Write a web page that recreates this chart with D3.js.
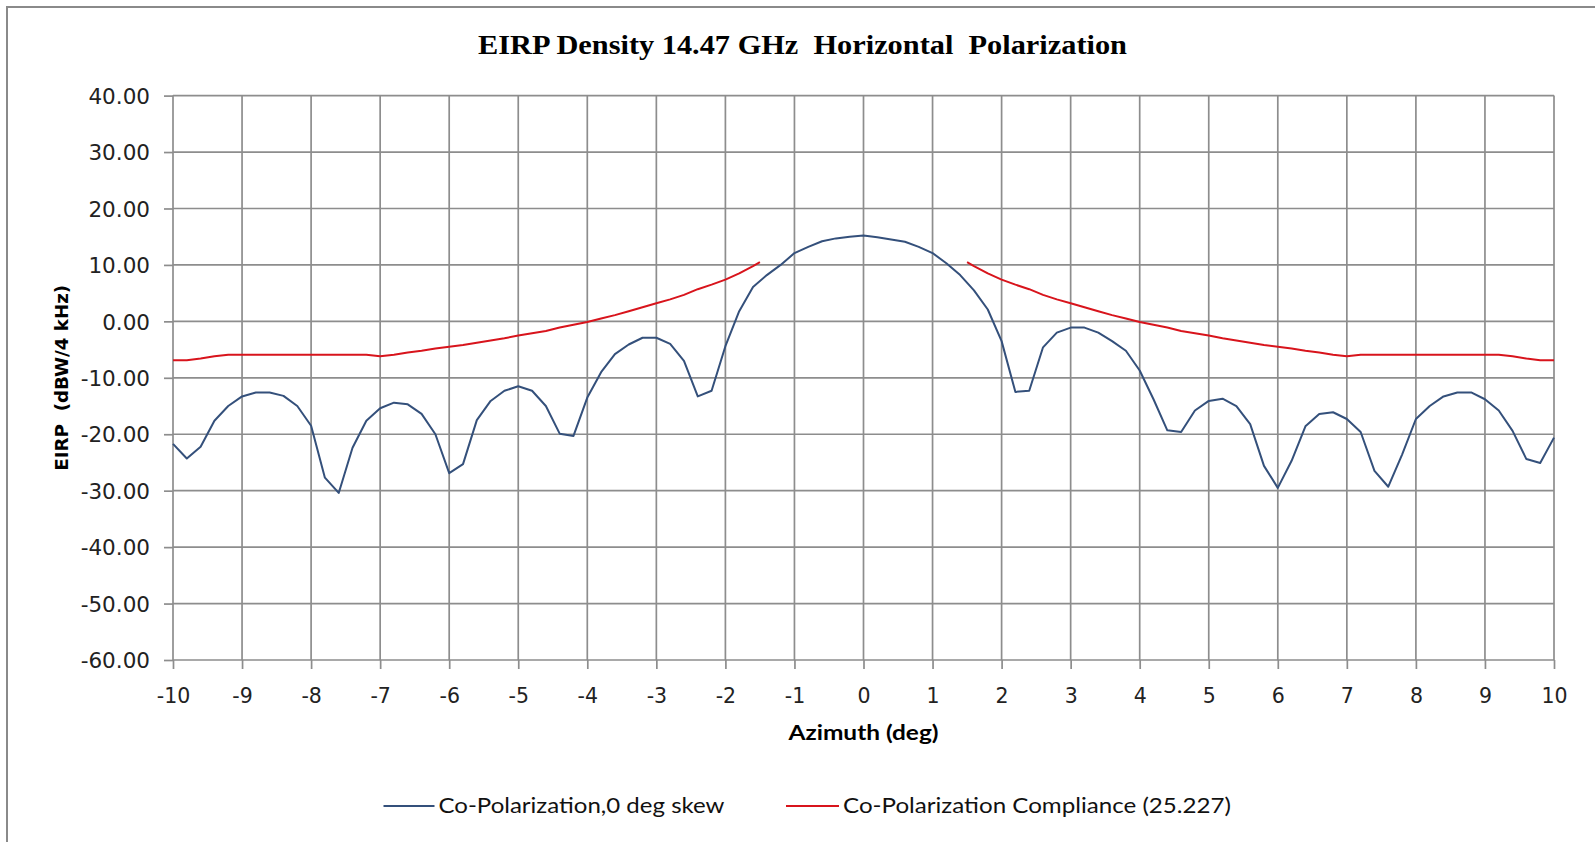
<!DOCTYPE html>
<html>
<head>
<meta charset="utf-8">
<script src="https://cdn.jsdelivr.net/npm/d3@7"></script>
<style>
  html, body { margin: 0; padding: 0; background: #ffffff; }
  svg { display: block; }
  text.pre { white-space: pre; }
</style>
</head>
<body>
<svg id="chart" width="1595" height="842"></svg>
<script>
// ---------- data ----------
const titleText = "EIRP Density 14.47 GHz  Horizontal  Polarization";
const xAxisTitle = "Azimuth (deg)";
const yAxisTitle = "EIRP  (dBW/4 kHz)";
const seriesNames = ["Co-Polarization,0 deg skew", "Co-Polarization Compliance (25.227)"];

const xTicks = [-10,-9,-8,-7,-6,-5,-4,-3,-2,-1,0,1,2,3,4,5,6,7,8,9,10];
const yTicks = [-60,-50,-40,-30,-20,-10,0,10,20,30,40];

const azimuth = [
  -10.0,-9.8,-9.6,-9.4,-9.2,-9.0,-8.8,-8.6,-8.4,-8.2,
  -8.0,-7.8,-7.6,-7.4,-7.2,-7.0,-6.8,-6.6,-6.4,-6.2,
  -6.0,-5.8,-5.6,-5.4,-5.2,-5.0,-4.8,-4.6,-4.4,-4.2,
  -4.0,-3.8,-3.6,-3.4,-3.2,-3.0,-2.8,-2.6,-2.4,-2.2,
  -2.0,-1.8,-1.6,-1.4,-1.2,-1.0,-0.8,-0.6,-0.4,-0.2,
  0.0,0.2,0.4,0.6,0.8,1.0,1.2,1.4,1.6,1.8,
  2.0,2.2,2.4,2.6,2.8,3.0,3.2,3.4,3.6,3.8,
  4.0,4.2,4.4,4.6,4.8,5.0,5.2,5.4,5.6,5.8,
  6.0,6.2,6.4,6.6,6.8,7.0,7.2,7.4,7.6,7.8,
  8.0,8.2,8.4,8.6,8.8,9.0,9.2,9.4,9.6,9.8,10.0
];

const coPol = [
  -21.7,-24.3,-22.2,-17.6,-15.0,-13.3,-12.6,-12.6,-13.2,-15.0,
  -18.5,-27.7,-30.4,-22.4,-17.6,-15.4,-14.4,-14.7,-16.4,-20.0,
  -26.9,-25.3,-17.5,-14.1,-12.3,-11.5,-12.3,-15.0,-19.9,-20.3,
  -13.5,-9.0,-5.8,-4.1,-2.9,-2.9,-4.0,-7.0,-13.3,-12.3,
  -4.4,1.8,6.1,8.2,10.0,12.1,13.2,14.2,14.7,15.0,
  15.2,14.9,14.5,14.1,13.2,12.1,10.3,8.2,5.5,2.1,
  -3.5,-12.5,-12.3,-4.6,-2.0,-1.1,-1.1,-2.0,-3.5,-5.2,
  -8.7,-13.8,-19.3,-19.6,-15.8,-14.1,-13.7,-15.0,-18.2,-25.6,
  -29.5,-24.7,-18.6,-16.4,-16.1,-17.3,-19.6,-26.5,-29.3,-23.6,
  -17.3,-15.0,-13.3,-12.6,-12.6,-13.8,-15.8,-19.4,-24.4,-25.1,-20.6
];

// compliance mask: left branch (-10 .. -1.5), right branch (1.5 .. 10)
const maskAzLeft = [
  -10.0,-9.8,-9.6,-9.4,-9.2,-9.0,-8.8,-8.6,-8.4,-8.2,
  -8.0,-7.8,-7.6,-7.4,-7.2,-7.0,-6.8,-6.6,-6.4,-6.2,
  -6.0,-5.8,-5.6,-5.4,-5.2,-5.0,-4.8,-4.6,-4.4,-4.2,
  -4.0,-3.8,-3.6,-3.4,-3.2,-3.0,-2.8,-2.6,-2.4,-2.2,
  -2.0,-1.8,-1.6,-1.5
];
const maskLeft = [
  -6.9,-6.9,-6.6,-6.2,-5.9,-5.9,-5.9,-5.9,-5.9,-5.9,
  -5.9,-5.9,-5.9,-5.9,-5.9,-6.2,-5.9,-5.5,-5.2,-4.8,
  -4.5,-4.2,-3.8,-3.4,-3.0,-2.5,-2.1,-1.7,-1.1,-0.6,
  -0.1,0.5,1.1,1.8,2.5,3.2,3.9,4.7,5.7,6.5,
  7.4,8.5,9.8,10.5
];
const maskAzRight = [
  1.5,1.6,1.8,2.0,2.2,2.4,2.6,2.8,3.0,3.2,
  3.4,3.6,3.8,4.0,4.2,4.4,4.6,4.8,5.0,5.2,
  5.4,5.6,5.8,6.0,6.2,6.4,6.6,6.8,7.0,7.2,
  7.4,7.6,7.8,8.0,8.2,8.4,8.6,8.8,9.0,9.2,
  9.4,9.6,9.8,10.0
];
const maskRight = [
  10.5,9.8,8.5,7.4,6.5,5.7,4.7,3.9,3.2,2.5,
  1.8,1.1,0.5,-0.1,-0.6,-1.1,-1.7,-2.1,-2.5,-3.0,
  -3.4,-3.8,-4.2,-4.5,-4.8,-5.2,-5.5,-5.9,-6.2,-5.9,
  -5.9,-5.9,-5.9,-5.9,-5.9,-5.9,-5.9,-5.9,-5.9,-5.9,
  -6.2,-6.6,-6.9,-6.9
];

// ---------- drawing ----------
const svg = d3.select("#chart");
const W = 1595, H = 842;
const plot = { left: 173, right: 1554, top: 95.6, bottom: 660 };

const x = d3.scaleLinear().domain([-10, 10]).range([plot.left, plot.right]);
const y = d3.scaleLinear().domain([-60, 40]).range([plot.bottom, plot.top]);

const gridColor = "#8d8d8d";
const blue = "#34507b";
const red = "#d8141c";

// outer chart border
svg.append("path")
  .attr("d", `M7,${H} L7,7 L${W},7`)
  .attr("fill", "none")
  .attr("stroke", "#8a8a8a")
  .attr("stroke-width", 2);

// title
svg.append("text")
  .attr("class", "pre")
  .attr("x", 802.5)
  .attr("y", 54)
  .attr("text-anchor", "middle")
  .attr("font-family", "'Liberation Serif', 'Times New Roman', serif")
  .attr("font-weight", "bold")
  .attr("font-size", 27)
  .attr("fill", "#000")
  .attr("textLength", 649)
  .attr("lengthAdjust", "spacingAndGlyphs")
  .text(titleText);

// gridlines
const grid = svg.append("g");
grid.selectAll("line.v").data(xTicks).join("line")
  .attr("x1", d => x(d)).attr("x2", d => x(d))
  .attr("y1", plot.top).attr("y2", plot.bottom)
  .attr("stroke", gridColor).attr("stroke-width", 1.7);
grid.selectAll("line.h").data(yTicks).join("line")
  .attr("x1", plot.left).attr("x2", plot.right)
  .attr("y1", d => y(d)).attr("y2", d => y(d))
  .attr("stroke", gridColor).attr("stroke-width", 1.7);

// y axis
const yAxis = d3.axisLeft(y).tickValues(yTicks).tickFormat(d => d.toFixed(2))
  .tickSize(9).tickPadding(14);
const gy = svg.append("g").attr("transform", `translate(${plot.left},0)`).call(yAxis);
gy.select(".domain").remove();
gy.selectAll(".tick line").attr("stroke", gridColor).attr("stroke-width", 1.7);
gy.selectAll(".tick text")
  .attr("font-family", "'DejaVu Sans', Verdana, sans-serif")
  .attr("font-size", 21.5)
  .attr("fill", "#222")
  .attr("dy", "0.36em");

// x axis
const xAxis = d3.axisBottom(x).tickValues(xTicks).tickFormat(d => String(d))
  .tickSize(9).tickPadding(10);
const gx = svg.append("g").attr("transform", `translate(0,${plot.bottom})`).call(xAxis);
gx.select(".domain").remove();
gx.selectAll(".tick line").attr("stroke", gridColor).attr("stroke-width", 1.7);
gx.selectAll(".tick text")
  .attr("font-family", "'DejaVu Sans', Verdana, sans-serif")
  .attr("font-size", 20.5)
  .attr("fill", "#222")
  .attr("y", 35.5)
  .attr("dy", "0.36em");

// axis titles
svg.append("text")
  .attr("x", (plot.left + plot.right) / 2)
  .attr("y", 740)
  .attr("text-anchor", "middle")
  .attr("font-family", "Lato, 'Open Sans', sans-serif")
  .attr("font-weight", "bold")
  .attr("font-size", 20)
  .attr("fill", "#000")
  .attr("textLength", 150)
  .attr("lengthAdjust", "spacingAndGlyphs")
  .text(xAxisTitle);

svg.append("text")
  .attr("class", "pre")
  .attr("transform", `translate(68,${(plot.top + plot.bottom) / 2}) rotate(-90)`)
  .attr("text-anchor", "middle")
  .attr("font-family", "'DejaVu Sans', Verdana, sans-serif")
  .attr("font-weight", "bold")
  .attr("font-size", 18)
  .attr("fill", "#000")
  .attr("textLength", 186)
  .attr("lengthAdjust", "spacingAndGlyphs")
  .text(yAxisTitle);

// series
const line = d3.line().x(d => x(d[0])).y(d => y(d[1]));
const series = svg.append("g");

series.append("path")
  .datum(azimuth.map((a, i) => [a, coPol[i]]))
  .attr("d", line)
  .attr("fill", "none")
  .attr("stroke", blue)
  .attr("stroke-width", 2)
  .attr("stroke-linejoin", "round");

series.append("path")
  .datum(maskAzLeft.map((a, i) => [a, maskLeft[i]]))
  .attr("d", line)
  .attr("fill", "none")
  .attr("stroke", red)
  .attr("stroke-width", 2)
  .attr("stroke-linejoin", "round");

series.append("path")
  .datum(maskAzRight.map((a, i) => [a, maskRight[i]]))
  .attr("d", line)
  .attr("fill", "none")
  .attr("stroke", red)
  .attr("stroke-width", 2)
  .attr("stroke-linejoin", "round");

// legend
const legendY = 806;
const legendItems = [
  { name: seriesNames[0], color: blue, x1: 383.5, x2: 434.5, tx: 438.5, tw: 286 },
  { name: seriesNames[1], color: red, x1: 786, x2: 839, tx: 843, tw: 388 }
];
const lg = svg.append("g");
legendItems.forEach(it => {
  lg.append("line")
    .attr("x1", it.x1).attr("x2", it.x2)
    .attr("y1", legendY).attr("y2", legendY)
    .attr("stroke", it.color).attr("stroke-width", 2);
  lg.append("text")
    .attr("x", it.tx).attr("y", legendY)
    .attr("dy", "0.35em")
    .attr("font-family", "Lato, 'Open Sans', sans-serif")
    .attr("font-size", 21)
    .attr("fill", "#111")
    .attr("textLength", it.tw)
    .attr("lengthAdjust", "spacingAndGlyphs")
    .text(it.name);
});
</script>
</body>
</html>
